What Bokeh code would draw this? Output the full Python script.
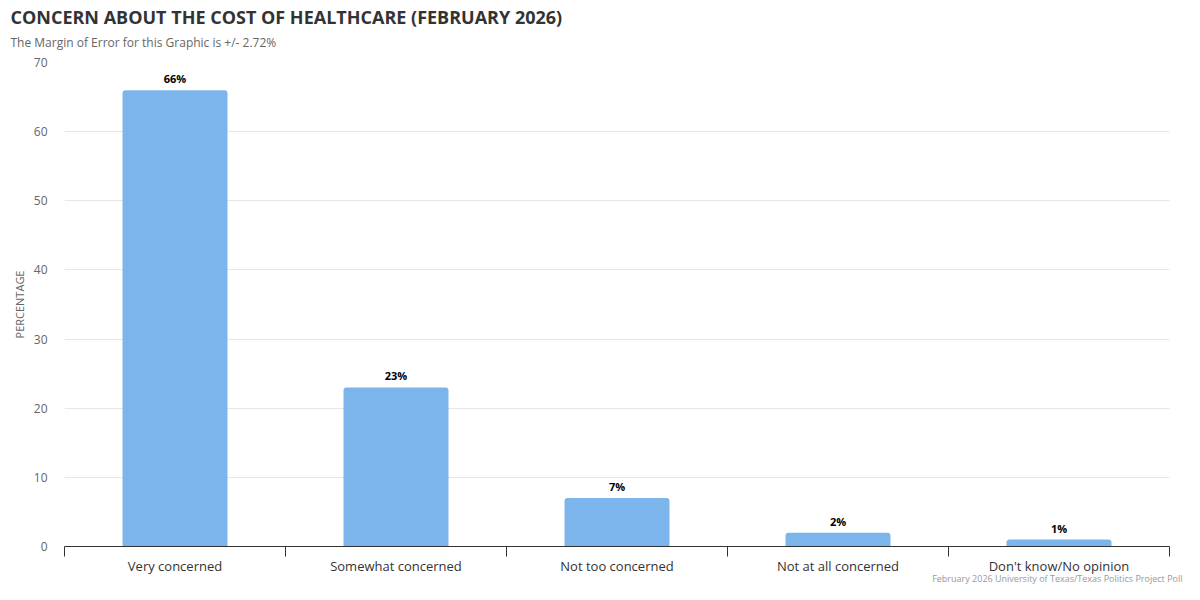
from bokeh.plotting import figure
from bokeh.models import Range1d, FixedTicker, Title, ColumnDataSource
from bokeh.core.properties import value
from bokeh.embed import file_html
from bokeh.resources import INLINE

categories = ["Very concerned", "Somewhat concerned", "Not too concerned",
              "Not at all concerned", "Don't know/No opinion"]
percentages = [66, 23, 7, 2, 1]
y_ticks = [0, 10, 20, 30, 40, 50, 60, 70]

title_text = "CONCERN ABOUT THE COST OF HEALTHCARE (FEBRUARY 2026)"
subtitle_text = "The Margin of Error for this Graphic is +/- 2.72%"
credit_text = "February 2026 University of Texas/Texas Politics Project Poll"
y_title = "PERCENTAGE"

FONT = "Open Sans"
W, H = 1184, 584

positions = [i + 0.5 for i in range(len(categories))]
labels = [f"{v}%" for v in percentages]
src = ColumnDataSource(dict(x=positions, top=percentages, label=labels))

p = figure(width=W, height=H, output_backend="svg", toolbar_location=None,
           title=None,
           x_range=Range1d(0, len(categories)), y_range=Range1d(0, 70),
           min_border_left=64, min_border_right=15, min_border_top=62,
           min_border_bottom=38)
p.outline_line_color = None
p.background_fill_color = "white"
p.border_fill_color = "white"

p.vbar(x="x", top="top", bottom=0, width=0.475, source=src,
       fill_color="#7cb5ec", line_color=None, border_radius=(3, 3, 0, 0))

p.text(x="x", y="top", text="label", source=src, y_offset=-4,
       text_align="center", text_baseline="bottom",
       text_font=value(FONT), text_font_style="bold", text_font_size="11px",
       text_color="#000000")

# x axis
xa = p.xaxis[0]
xa.ticker = FixedTicker(ticks=positions, minor_ticks=list(range(len(categories) + 1)))
xa.major_label_overrides = {pos: c for pos, c in zip(positions, categories)}
xa.major_tick_line_color = None
xa.major_tick_out = 0
xa.major_tick_in = 0
xa.minor_tick_out = 10
xa.minor_tick_in = 0
xa.minor_tick_line_color = "#333333"
xa.axis_line_color = "#333333"
xa.major_label_standoff = 0
xa.major_label_text_font = FONT
xa.major_label_text_font_size = "13px"
xa.major_label_text_color = "#333333"
p.xgrid.grid_line_color = None

# y axis
ya = p.yaxis[0]
ya.ticker = FixedTicker(ticks=y_ticks)
ya.axis_line_color = None
ya.major_tick_line_color = None
ya.minor_tick_line_color = None
ya.major_label_standoff = 11
ya.major_label_text_font = FONT
ya.major_label_text_font_size = "12px"
ya.major_label_text_color = "#666666"
ya.axis_label = y_title
ya.axis_label_text_font = FONT
ya.axis_label_text_font_size = "11px"
ya.axis_label_text_font_style = "normal"
ya.axis_label_text_color = "#666666"
ya.axis_label_standoff = 4
p.ygrid.grid_line_color = "#e6e6e6"
p.ygrid.ticker = FixedTicker(ticks=y_ticks[1:])

# titles: first added "above" sits nearest the frame
p.add_layout(Title(text=subtitle_text, text_font=FONT, text_font_size="12px",
                   text_font_style="normal", text_color="#666666",
                   align="left", offset=-54, standoff=24), "above")
p.add_layout(Title(text=title_text, text_font=FONT, text_font_size="18px",
                   text_font_style="bold", text_color="#333333",
                   align="left", offset=-54, standoff=-18), "above")
p.add_layout(Title(text=credit_text, text_font=FONT, text_font_size="9px",
                   text_font_style="normal", text_color="#999999",
                   align="right", vertical_align="top", offset=-13,
                   standoff=-12), "below")

open("out.html", "w").write(file_html(p, INLINE))
